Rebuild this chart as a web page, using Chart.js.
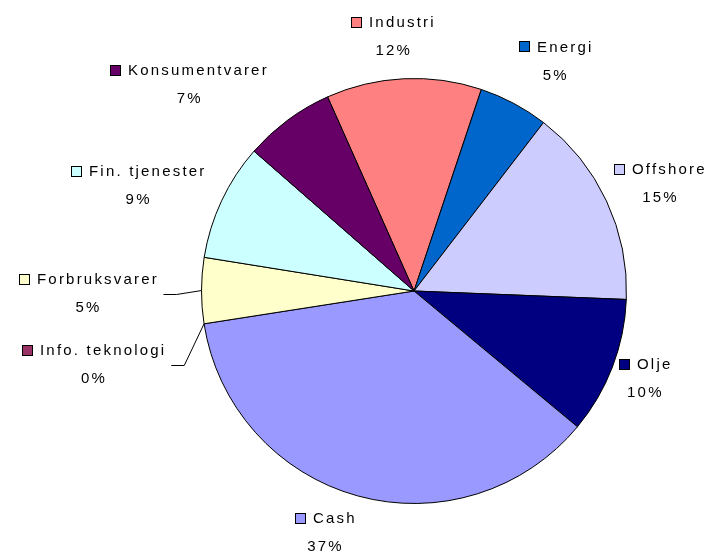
<!DOCTYPE html>
<html>
<head>
<meta charset="utf-8">
<script src="https://cdn.jsdelivr.net/npm/chart.js@4.4.0/dist/chart.umd.min.js"></script>
<style>
  html, body { margin: 0; padding: 0; background: #fff; }
  #wrap { width: 715px; height: 555px; }
</style>
</head>
<body>
<div id="wrap"><canvas id="pieChart" width="715" height="555"></canvas></div>
<script>
// Portfolio split by sector (percent)
const sectors = ['Industri', 'Energi', 'Offshore', 'Olje', 'Cash', 'Info. teknologi', 'Forbruksvarer', 'Fin. tjenester', 'Konsumentvarer'];
const shares = [11.8, 5.3, 15.2, 10.4, 36.5, 0, 5.0, 8.9, 6.9];
const sliceColors = ['#FF8080', '#0066CC', '#CCCCFF', '#000080', '#9999FF', '#993366', '#FFFFCC', '#CCFFFF', '#660066'];

// label placement, relative to the outer edge of each slice
const labelOffsets = [[-10, -42], [42, -42], [54, -17], [33, 12], [-32, 37], [-110, 41], [-113, 3], [-83, -15], [-98, -35]];
const leaderLines = [false, false, false, false, false, true, true, false, false];

const outsideLabels = {
    id: 'outsideLabels',
    afterDatasetsDraw(chart) {
        const ctx = chart.ctx;
        const meta = chart.getDatasetMeta(0);
        const total = shares.reduce((a, b) => a + b, 0);

        ctx.save();
        ctx.font = '15px Arial';
        ctx.letterSpacing = '2.2px';
        ctx.textBaseline = 'middle';
        ctx.textAlign = 'left';

        meta.data.forEach((arc, i) => {
            const p = arc.getProps(['x', 'y', 'startAngle', 'endAngle', 'outerRadius'], true);
            const mid = (p.startAngle + p.endAngle) / 2;
            const ax = p.x + Math.cos(mid) * p.outerRadius;
            const ay = p.y + Math.sin(mid) * p.outerRadius;
            const cx = ax + labelOffsets[i][0];
            const cy = ay + labelOffsets[i][1];

            const name = sectors[i];
            const tw = ctx.measureText(name).width;
            const w = 11 + 7 + tw;
            const left = Math.round(cx - w / 2);
            const y1 = cy - 14;
            const y2 = cy + 14;

            // legend key
            const ky = Math.round(y1 - 6);
            ctx.fillStyle = sliceColors[i];
            ctx.fillRect(left, ky, 11, 11);
            ctx.strokeStyle = '#000';
            ctx.lineWidth = 1;
            ctx.strokeRect(left + 0.5, ky + 0.5, 10, 10);

            ctx.fillStyle = '#000';
            ctx.fillText(name, left + 18, y1);

            const pct = Math.round(shares[i] / total * 100 + 1e-9) + '%';
            const pw = ctx.measureText(pct).width;
            ctx.fillText(pct, cx - pw / 2, y2);

            if (leaderLines[i]) {
                const right = cx + w / 2;
                const ly = Math.round(cy) + 0.5;
                ctx.beginPath();
                ctx.moveTo(right + 5, ly);
                ctx.lineTo(right + 18, ly);
                ctx.lineTo(ax, ay);
                ctx.strokeStyle = '#000';
                ctx.stroke();
            }
        });
        ctx.restore();
    }
};

const ctx = document.getElementById('pieChart').getContext('2d');
new Chart(ctx, {
    type: 'pie',
    data: {
        labels: sectors,
        datasets: [{
            data: shares,
            backgroundColor: sliceColors,
            borderColor: '#000',
            borderWidth: 1
        }]
    },
    options: {
        responsive: false,
        animation: false,
        rotation: -24,
        layout: {
            padding: { left: 201, right: 88, top: 78, bottom: 51 }
        },
        plugins: {
            legend: { display: false },
            tooltip: { enabled: false }
        }
    },
    plugins: [outsideLabels]
});
</script>
</body>
</html>
